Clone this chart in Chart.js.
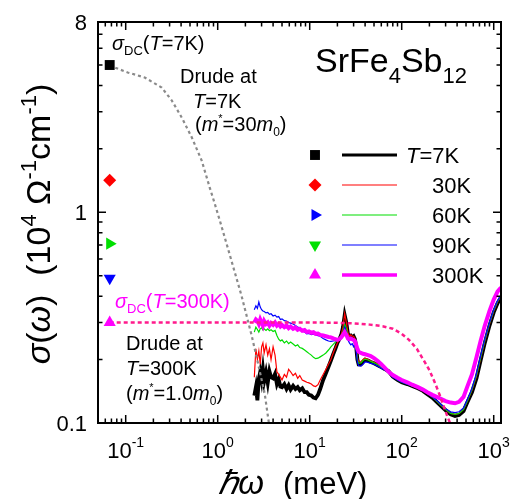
<!DOCTYPE html>
<html>
<head>
<meta charset="utf-8">
<script src="https://cdn.jsdelivr.net/npm/chart.js@4.4.0/dist/chart.umd.min.js"></script>
<style>
  html, body { margin: 0; padding: 0; background: #fff; }
</style>
</head>
<body>
<canvas id="chart" width="517" height="499"></canvas>
<script>
// photon energy hw (meV), shared by the five spectra
const freq = [
  2.5, 2.6, 2.7, 2.8, 2.9, 3.0, 3.1, 3.2, 3.35, 3.5, 3.65, 3.8, 4.0, 4.2, 4.4, 4.6, 4.8, 5.0, 5.3, 5.6, 5.9, 6.2, 6.6, 7.0, 7.4, 7.8, 8.3, 8.8, 9.3, 9.8, 10.4, 11.0, 11.6,
  12.3, 13, 14, 15, 16, 17, 18, 19, 20, 21, 22, 23, 24, 25, 26, 27, 28, 29, 30, 31, 32, 33, 34,
  36, 38, 40, 43, 46, 50, 55, 60, 66, 72, 80, 90, 100, 115, 130, 150, 170, 190, 215, 240, 270, 300, 340, 380, 420, 470, 520, 580, 650, 720, 800, 900, 1000, 1100, 1200
];

// sigma(w) in 10^4 Ohm^-1 cm^-1
const sigma7K = [
  0.135, 0.148, 0.128, 0.162, 0.175, 0.160, 0.180, 0.158, 0.174, 0.155, 0.176, 0.165, 0.163, 0.171, 0.153, 0.161, 0.149, 0.148, 0.153, 0.145, 0.151, 0.144, 0.150, 0.145, 0.148, 0.143, 0.146, 0.140, 0.140, 0.136, 0.135, 0.132, 0.131,
  0.136, 0.145, 0.160, 0.172, 0.185, 0.198, 0.212, 0.225, 0.240, 0.250, 0.262, 0.285, 0.325, 0.300, 0.265, 0.258, 0.260, 0.255, 0.258, 0.250, 0.230, 0.200, 0.190,
  0.190, 0.195, 0.200, 0.198, 0.195, 0.192, 0.188, 0.184, 0.180, 0.176, 0.166, 0.160, 0.156, 0.153, 0.150, 0.146, 0.142, 0.137, 0.132, 0.126, 0.120, 0.115, 0.110, 0.108, 0.109, 0.114, 0.126, 0.140, 0.163, 0.198, 0.240, 0.290, 0.335, 0.370, 0.395
];
const sigma30K = [
  0.165, 0.225, 0.200, 0.220, 0.190, 0.230, 0.240, 0.215, 0.235, 0.210, 0.225, 0.200, 0.230, 0.210, 0.175, 0.170, 0.165, 0.160, 0.170, 0.165, 0.180, 0.175, 0.168, 0.172, 0.163, 0.168, 0.160, 0.158, 0.156, 0.155, 0.153, 0.150, 0.149,
  0.152, 0.160, 0.170, 0.180, 0.190, 0.200, 0.215, 0.228, 0.240, 0.250, 0.262, 0.285, 0.330, 0.300, 0.268, 0.258, 0.262, 0.258, 0.258, 0.252, 0.232, 0.205, 0.195,
  0.195, 0.200, 0.203, 0.200, 0.197, 0.194, 0.190, 0.185, 0.181, 0.177, 0.167, 0.161, 0.157, 0.154, 0.151, 0.147, 0.143, 0.138, 0.133, 0.127, 0.121, 0.116, 0.111, 0.110, 0.111, 0.116, 0.128, 0.143, 0.167, 0.202, 0.245, 0.295, 0.340, 0.375, 0.400
];
const sigma60K = [
  0.270, 0.285, 0.278, 0.270, 0.280, 0.283, 0.276, 0.280, 0.275, 0.280, 0.274, 0.277, 0.272, 0.275, 0.260, 0.250, 0.245, 0.248, 0.240, 0.245, 0.238, 0.242, 0.237, 0.232, 0.235, 0.228, 0.226, 0.222, 0.218, 0.214, 0.210, 0.205, 0.202,
  0.203, 0.206, 0.210, 0.215, 0.222, 0.230, 0.236, 0.242, 0.247, 0.250, 0.258, 0.270, 0.295, 0.280, 0.258, 0.252, 0.255, 0.252, 0.250, 0.245, 0.226, 0.200, 0.192,
  0.193, 0.198, 0.201, 0.199, 0.196, 0.193, 0.189, 0.184, 0.180, 0.176, 0.166, 0.160, 0.156, 0.153, 0.150, 0.147, 0.143, 0.138, 0.133, 0.127, 0.121, 0.116, 0.111, 0.110, 0.111, 0.116, 0.128, 0.144, 0.169, 0.204, 0.247, 0.297, 0.342, 0.377, 0.402
];
const sigma90K = [
  0.345, 0.360, 0.350, 0.375, 0.355, 0.345, 0.340, 0.338, 0.333, 0.335, 0.328, 0.330, 0.322, 0.325, 0.318, 0.320, 0.310, 0.312, 0.306, 0.305, 0.300, 0.298, 0.295, 0.290, 0.285, 0.282, 0.275, 0.270, 0.265, 0.266, 0.263, 0.264, 0.262,
  0.260, 0.258, 0.252, 0.248, 0.245, 0.244, 0.245, 0.246, 0.248, 0.250, 0.255, 0.265, 0.285, 0.270, 0.248, 0.240, 0.235, 0.238, 0.230, 0.238, 0.220, 0.195, 0.187,
  0.186, 0.190, 0.195, 0.194, 0.192, 0.190, 0.186, 0.182, 0.178, 0.174, 0.165, 0.160, 0.156, 0.153, 0.150, 0.147, 0.143, 0.138, 0.133, 0.128, 0.122, 0.117, 0.113, 0.112, 0.113, 0.118, 0.130, 0.146, 0.172, 0.208, 0.250, 0.300, 0.345, 0.380, 0.405
];
const sigma300K = [
  0.300, 0.310, 0.305, 0.295, 0.310, 0.300, 0.290, 0.305, 0.295, 0.300, 0.290, 0.298, 0.292, 0.300, 0.290, 0.295, 0.287, 0.292, 0.285, 0.290, 0.282, 0.287, 0.280, 0.284, 0.277, 0.280, 0.274, 0.276, 0.270, 0.272, 0.268, 0.270, 0.265,
  0.266, 0.262, 0.260, 0.258, 0.256, 0.255, 0.252, 0.250, 0.248, 0.250, 0.255, 0.262, 0.270, 0.262, 0.252, 0.250, 0.252, 0.250, 0.248, 0.245, 0.235, 0.225, 0.218,
  0.215, 0.213, 0.212, 0.210, 0.208, 0.203, 0.197, 0.190, 0.182, 0.175, 0.169, 0.164, 0.160, 0.156, 0.152, 0.148, 0.144, 0.140, 0.136, 0.133, 0.130, 0.127, 0.125, 0.124, 0.126, 0.133, 0.150, 0.170, 0.205, 0.245, 0.290, 0.340, 0.385, 0.420, 0.440
];

// Drude curves
const drude7KFreq  = [0.067, 0.105, 0.161, 0.246, 0.316, 0.406, 0.522, 0.67, 0.819, 0.928, 1.05, 1.35, 1.82, 2.34, 2.72, 3.24, 3.6];
const drude7KSigma = [4.97, 4.61, 4.36, 3.91, 3.40, 2.82, 2.27, 1.76, 1.31, 1.10, 0.92, 0.63, 0.40, 0.26, 0.195, 0.138, 0.10];
const drude300KFreq  = [0.067, 1, 10, 20, 30, 45, 62, 80, 100, 120, 146, 175, 200, 230, 260, 290, 310, 335];
const drude300KSigma = [0.30, 0.30, 0.30, 0.299, 0.297, 0.293, 0.288, 0.28, 0.265, 0.248, 0.225, 0.197, 0.178, 0.155, 0.135, 0.118, 0.109, 0.10];

// DC conductivity markers (plotted at hw = 0.067 meV)
const dcFreq = 0.067;
const dcSigma = [5.0, 1.42, 0.71, 0.487, 0.30];

const tempLabels = ['T=7K', '30K', '60K', '90K', '300K'];
const lineColors = ['#000000', '#ff0000', '#00dd00', '#0000ff', '#ff00ff'];
const lineWidths = [3.8, 1.2, 1.2, 1.2, 4];
const markerColors = ['#000000', '#ff0000', '#00e000', '#0000ff', '#ff00ff'];
const markerStyles = ['rect', 'rectRot', 'triangle', 'triangle', 'triangle'];
const markerRot = [0, 0, 90, 180, 0];
const markerSize = [7, 6.5, 7, 7, 7];
// legend in the figure swaps the 60K / 90K marker colours
const legendMarkerColors = ['#000000', '#ff0000', '#0000ff', '#00e000', '#ff00ff'];
const legendMarkerRot = [0, 0, 90, 180, 0];

const xMajorTicks = [0.1, 1, 10, 100, 1000];
const xTickExp = ['-1', '0', '1', '2', '3'];
const yLabelTicks = [0.1, 1, 8];
const yTickLabels = ['0.1', '1', '8'];

const FONT = '"Liberation Sans", Arial, sans-serif';
const spectra = [sigma7K, sigma30K, sigma60K, sigma90K, sigma300K];

const datasets = [];
spectra.forEach((s, i) => {
  datasets.push({
    data: freq.map((f, k) => ({ x: f, y: s[k] })),
    showLine: true,
    borderColor: lineColors[i],
    borderWidth: lineWidths[i],
    pointRadius: 0,
    tension: 0,
    order: 10 - i
  });
});
datasets.push({
  data: drude7KFreq.map((f, k) => ({ x: f, y: drude7KSigma[k] })),
  showLine: true, borderColor: '#8a8a8a', borderWidth: 2.2, borderDash: [3, 3],
  pointRadius: 0, order: 3
});
datasets.push({
  data: drude300KFreq.map((f, k) => ({ x: f, y: drude300KSigma[k] })),
  showLine: true, borderColor: '#ff1a8c', borderWidth: 2.5, borderDash: [4, 3],
  pointRadius: 0, order: 2
});
dcSigma.forEach((v, i) => {
  datasets.push({
    data: [{ x: dcFreq, y: v }],
    showLine: false,
    pointStyle: markerStyles[i],
    pointRotation: markerRot[i],
    pointRadius: markerSize[i],
    backgroundColor: markerColors[i],
    borderColor: markerColors[i],
    borderWidth: 0,
    order: 1
  });
});

function fontOf(p) {
  return (p[2] ? 'italic ' : '') + p[1] + 'px ' + FONT;
}
function drawRich(ctx, x, y, parts, align) {
  let total = 0;
  parts.forEach(p => { ctx.font = fontOf(p); total += ctx.measureText(p[0]).width; });
  let cx = align === 'center' ? x - total / 2 : (align === 'right' ? x - total : x);
  parts.forEach(p => {
    ctx.font = fontOf(p);
    ctx.fillText(p[0], cx, y + (p[3] || 0));
    cx += ctx.measureText(p[0]).width;
  });
}

const decor = {
  id: 'decor',
  afterDraw(chart) {
    const ctx = chart.ctx;
    const a = chart.chartArea;
    const xs = chart.scales.x, ys = chart.scales.y;
    ctx.save();
    ctx.textAlign = 'left';
    ctx.textBaseline = 'alphabetic';
    ctx.strokeStyle = '#000';
    ctx.fillStyle = '#000';

    // frame
    ctx.lineWidth = 2;
    ctx.strokeRect(a.left, a.top, a.right - a.left, a.bottom - a.top);

    // ticks, inward on all sides
    ctx.lineWidth = 1.5;
    const xTicks = [];
    for (let e = -2; e <= 3; e++) {
      for (let m = 1; m <= 9; m++) {
        const v = m * Math.pow(10, e);
        if (v >= 0.05 && v <= 1200) xTicks.push([v, m === 1]);
      }
    }
    xTicks.forEach(([v, major]) => {
      const px = xs.getPixelForValue(v);
      const len = major ? 8 : 4.5;
      ctx.beginPath();
      ctx.moveTo(px, a.bottom); ctx.lineTo(px, a.bottom - len);
      ctx.moveTo(px, a.top); ctx.lineTo(px, a.top + len);
      ctx.stroke();
    });
    const yTicks = [];
    for (let e = -1; e <= 0; e++) {
      for (let m = 1; m <= 9; m++) {
        const v = m * Math.pow(10, e);
        if (v >= 0.1 && v <= 8) yTicks.push([v, m === 1]);
      }
    }
    yTicks.forEach(([v, major]) => {
      const py = ys.getPixelForValue(v);
      const len = major ? 8 : 4.5;
      ctx.beginPath();
      ctx.moveTo(a.left, py); ctx.lineTo(a.left + len, py);
      ctx.moveTo(a.right, py); ctx.lineTo(a.right - len, py);
      ctx.stroke();
    });

    // tick labels
    xMajorTicks.forEach((v, i) => {
      drawRich(ctx, xs.getPixelForValue(v), 458, [['10', 22], [xTickExp[i], 14, false, -11]], 'center');
    });
    yLabelTicks.forEach((v, i) => {
      drawRich(ctx, 87, ys.getPixelForValue(v) + 8, [[yTickLabels[i], 22]], 'right');
    });

    // axis titles
    drawRich(ctx, 283, 494, [['(meV)', 31]], 'left');
    drawRich(ctx, 264, 494, [['\u210F\u03C9', 33, true]], 'right');
    ctx.save();
    ctx.translate(50, 224);
    ctx.rotate(-Math.PI / 2);
    drawRich(ctx, 0, 0, [
      ['\u03C3', 34, true], ['(', 34], ['\u03C9', 34, true], [')', 34], ['  (10', 34], ['4', 22, false, -14],
      [' \u03A9', 34], ['-1', 22, false, -14], ['cm', 34], ['-1', 22, false, -14], [')', 34]
    ], 'center');
    ctx.restore();

    // title
    drawRich(ctx, 315, 72, [['SrFe', 34], ['4', 22, false, 11], ['Sb', 34], ['12', 22, false, 11]], 'left');

    // annotations
    drawRich(ctx, 112, 50, [['\u03C3', 20, true], ['DC', 13, false, 5], ['(', 20], ['T', 20, true], ['=7K)', 20]], 'left');
    drawRich(ctx, 180, 83, [['Drude at', 20]], 'left');
    drawRich(ctx, 193, 108, [['T', 20, true], ['=7K', 20]], 'left');
    drawRich(ctx, 195, 131, [['(', 20], ['m', 20, true], ['*', 11, false, -9], ['=30', 20], ['m', 20, true], ['0', 12, false, 5], [')', 20]], 'left');
    ctx.fillStyle = '#ff00ff';
    drawRich(ctx, 115, 308, [['\u03C3', 20, true], ['DC', 13, false, 5], ['(', 20], ['T', 20, true], ['=300K)', 20]], 'left');
    ctx.fillStyle = '#000';
    drawRich(ctx, 126, 350, [['Drude at', 20]], 'left');
    drawRich(ctx, 126, 375, [['T', 20, true], ['=300K', 20]], 'left');
    drawRich(ctx, 126, 400, [['(', 20], ['m', 20, true], ['*', 11, false, -9], ['=1.0', 20], ['m', 20, true], ['0', 12, false, 5], [')', 20]], 'left');

    // legend
    const rowY = [155, 185, 215, 245, 275];
    tempLabels.forEach((lab, i) => {
      const y = rowY[i];
      ctx.fillStyle = legendMarkerColors[i];
      Chart.helpers.drawPoint(ctx, {
        pointStyle: markerStyles[i], rotation: legendMarkerRot[i], radius: markerSize[i], borderWidth: 0
      }, 315, y);
      ctx.strokeStyle = lineColors[i];
      ctx.lineWidth = i === 0 ? 3 : (i === 4 ? 3.5 : 1.2);
      ctx.beginPath();
      ctx.moveTo(342, y); ctx.lineTo(397, y);
      ctx.stroke();
      ctx.fillStyle = '#000';
      if (i === 0) {
        drawRich(ctx, 406, y + 8, [['T', 22, true], [lab.slice(1), 22]], 'left');
      } else {
        drawRich(ctx, 432, y + 8, [[lab, 22]], 'left');
      }
    });
    ctx.restore();
  }
};

new Chart(document.getElementById('chart').getContext('2d'), {
  type: 'scatter',
  data: { datasets: datasets },
  options: {
    responsive: false,
    animation: false,
    layout: { padding: { left: 98, top: 22, right: 16, bottom: 76 } },
    plugins: { legend: { display: false }, tooltip: { enabled: false } },
    scales: {
      x: { type: 'logarithmic', min: 0.05, max: 1200, display: false },
      y: { type: 'logarithmic', min: 0.1, max: 8, display: false }
    }
  },
  plugins: [decor]
});
</script>
</body>
</html>
